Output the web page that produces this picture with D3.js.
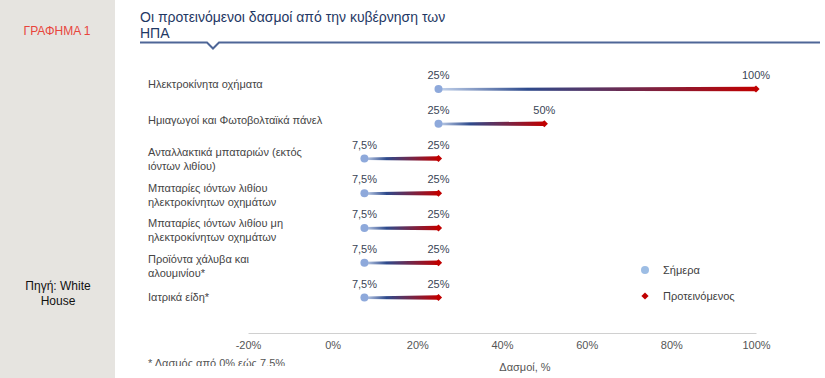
<!DOCTYPE html>
<html>
<head>
<meta charset="utf-8">
<script src="https://cdn.jsdelivr.net/npm/d3@7"></script>
<style>
  body { margin: 0; background: #fff; }
  svg { display: block; font-family: "Liberation Sans", Arial, sans-serif; }
</style>
</head>
<body>
<div id="chart"></div>
<script>
// categories (multi-line labels split on '|')
var categories = [
  'Ηλεκτροκίνητα οχήματα',
  'Ημιαγωγοί και Φωτοβολταϊκά πάνελ',
  'Ανταλλακτικά μπαταριών (εκτός|ιόντων λιθίου)',
  'Μπαταρίες ιόντων λιθίου|ηλεκτροκίνητων οχημάτων',
  'Μπαταρίες ιόντων λιθίου μη|ηλεκτροκίνητων οχημάτων',
  'Προϊόντα χάλυβα και|αλουμινίου*',
  'Ιατρικά είδη*'
];
var today = [25, 25, 7.5, 7.5, 7.5, 7.5, 7.5];       // Σήμερα
var proposed = [100, 50, 25, 25, 25, 25, 25];        // Προτεινόμενος
var todayLabels = ['25%', '25%', '7,5%', '7,5%', '7,5%', '7,5%', '7,5%'];
var proposedLabels = ['100%', '50%', '25%', '25%', '25%', '25%', '25%'];
var ticks = [-20, 0, 20, 40, 60, 80, 100];
var legendItems = ['Σήμερα', 'Προτεινόμενος'];

var W = 825, H = 378;
var svg = d3.select('#chart').append('svg').attr('width', W).attr('height', H);
var defs = svg.append('defs');

// left grey panel
svg.append('rect').attr('x', 0).attr('y', 0).attr('width', 115).attr('height', H).style('fill', '#e6e4e0');
svg.append('text').attr('x', 57).attr('y', 35).attr('text-anchor', 'middle')
  .style('font-size', '12px').style('fill', '#e8453c').text('ΓΡΑΦΗΜΑ 1');
svg.append('text').attr('x', 58).attr('y', 290).attr('text-anchor', 'middle')
  .style('font-size', '12px').style('fill', '#111').text('Πηγή: White');
svg.append('text').attr('x', 58).attr('y', 305).attr('text-anchor', 'middle')
  .style('font-size', '12px').style('fill', '#111').text('House');

// title + underline with notch
svg.append('text').attr('x', 140).attr('y', 22).style('font-size', '14px').style('fill', '#1f3864')
  .text('Οι προτεινόμενοι δασμοί από την κυβέρνηση των');
svg.append('text').attr('x', 140).attr('y', 38).style('font-size', '14px').style('fill', '#1f3864')
  .text('ΗΠΑ');
svg.append('path')
  .attr('d', d3.line()([[140, 42.5], [207, 42.5], [213, 48.5], [219, 42.5], [820, 42.5]]))
  .style('fill', 'none').style('stroke', '#4e6697').style('stroke-width', 2);

// scales
var x = d3.scaleLinear().domain([-20, 100]).range([248, 756]);
var y = d3.scalePoint().domain(d3.range(categories.length)).range([89, 297.5]);
var yLabel = d3.scalePoint().domain(d3.range(categories.length)).range([84, 297]); // text centre of labels

// axis
var axis = svg.append('g').attr('transform', 'translate(0,333)')
  .call(d3.axisBottom(x).tickValues(ticks).tickSize(0).tickPadding(8).tickFormat(function(d) { return d + '%'; }));
axis.select('.domain').style('stroke', '#d0d0d0').style('stroke-width', 1);
axis.selectAll('text').style('font-size', '11px').style('fill', '#555').style('font-family', '"Liberation Sans", Arial, sans-serif');

svg.append('text').attr('x', 525).attr('y', 371).attr('text-anchor', 'middle')
  .style('font-size', '11px').style('fill', '#555').text('Δασμοί, %');

// footnote is cut off in the original
defs.append('clipPath').attr('id', 'noteclip').append('rect')
  .attr('x', 140).attr('y', 350).attr('width', 300).attr('height', 16);
svg.append('text').attr('x', 148).attr('y', 367).attr('clip-path', 'url(#noteclip)')
  .style('font-size', '11px').style('fill', '#555').text('* Δασμός από 0% εώς 7,5%');

// category labels
categories.forEach(function(c, i) {
  var lines = c.split('|');
  var t = svg.append('text').attr('x', 148).style('font-size', '11px').style('fill', '#454545');
  var y0 = yLabel(i) + 4 - (lines.length - 1) * 3;
  lines.forEach(function(l, j) {
    t.append('tspan').attr('x', 148).attr('y', y0 + j * 14).text(l);
  });
});

// gradients
categories.forEach(function(c, i) {
  var g = defs.append('linearGradient').attr('id', 'grad' + i)
    .attr('gradientUnits', 'userSpaceOnUse')
    .attr('x1', x(today[i])).attr('x2', x(proposed[i])).attr('y1', 0).attr('y2', 0);
  g.append('stop').attr('offset', '0%').attr('stop-color', '#c3d3ec');
  g.append('stop').attr('offset', i === 0 ? '28%' : '30%').attr('stop-color', '#2e4a8c');
  g.append('stop').attr('offset', '100%').attr('stop-color', '#c00000');
});

// tapered connectors
var rows = svg.append('g').selectAll('g').data(categories).join('g');
rows.append('path')
  .attr('d', function(d, i) {
    var x0 = x(today[i]), x1 = x(proposed[i]), yy = y(i);
    return 'M' + x0 + ',' + (yy - 1) + 'L' + x1 + ',' + (yy - 2.3) + 'L' + x1 + ',' + (yy + 2.3) +
      'L' + x0 + ',' + (yy + 1.5) + 'Z';
  })
  .style('fill', function(d, i) { return 'url(#grad' + i + ')'; });

rows.append('circle')
  .attr('cx', function(d, i) { return x(today[i]); })
  .attr('cy', function(d, i) { return y(i); })
  .attr('r', 4).style('fill', '#8ea9db');

// diamond = square rotated 45 degrees
var diamond = d3.symbol().type(d3.symbolSquare).size(26);
rows.append('path')
  .attr('d', diamond)
  .attr('transform', function(d, i) { return 'translate(' + x(proposed[i]) + ',' + y(i) + ') rotate(45)'; })
  .style('fill', '#c00000');

rows.append('text')
  .attr('x', function(d, i) { return x(today[i]); })
  .attr('y', function(d, i) { return y(i) - 10; })
  .attr('text-anchor', 'middle').style('font-size', '11px').style('fill', '#3a4556')
  .text(function(d, i) { return todayLabels[i]; });
rows.append('text')
  .attr('x', function(d, i) { return x(proposed[i]); })
  .attr('y', function(d, i) { return y(i) - 10; })
  .attr('text-anchor', 'middle').style('font-size', '11px').style('fill', '#3a4556')
  .text(function(d, i) { return proposedLabels[i]; });

// legend
var leg = svg.append('g').selectAll('g').data(legendItems).join('g')
  .attr('transform', function(d, i) { return 'translate(645,' + (270 + i * 26) + ')'; });
leg.filter(function(d, i) { return i === 0; }).append('circle').attr('r', 4).style('fill', '#9dbde4');
leg.filter(function(d, i) { return i === 1; }).append('path').attr('d', diamond)
  .attr('transform', 'rotate(45)').style('fill', '#c00000');
leg.append('text').attr('x', 18).attr('y', 4).style('font-size', '11px').style('fill', '#404040')
  .text(function(d) { return d; });
</script>
</body>
</html>
